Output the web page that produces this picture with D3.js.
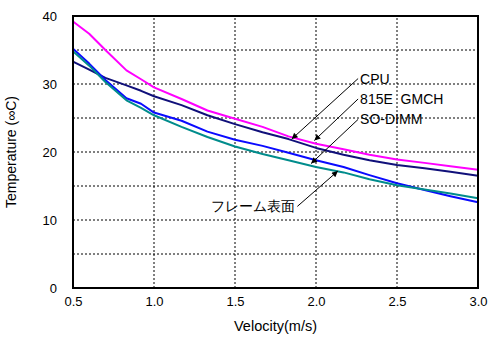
<!DOCTYPE html>
<html>
<head>
<meta charset="utf-8">
<script src="https://cdn.jsdelivr.net/npm/d3@7"></script>
<style>
  body { margin: 0; background: #fff; }
  svg { display: block; font-family: Arial, "Liberation Sans", sans-serif; }
  .grid line { stroke: #000; stroke-width: 1; stroke-dasharray: 2,2; }
  .series { fill: none; stroke-width: 2; stroke-linejoin: round; }
  .ann line { stroke: #000; stroke-width: 1; }
</style>
</head>
<body>
<svg id="chart" width="496" height="338"></svg>
<script>
(function() {

// velocity (m/s)
const velocity = [0.5, 0.6, 0.7, 0.83, 0.92, 1.0, 1.17, 1.33, 1.5, 1.67, 1.83, 2.0, 2.17, 2.33, 2.5, 2.67, 2.83, 3.0];

// temperatures (deg C) per series
const cpuTemp    = [39.2, 37.4, 35.0, 32.0, 30.7, 29.5, 27.8, 26.1, 24.9, 23.7, 22.3, 21.2, 20.4, 19.6, 18.9, 18.4, 17.9, 17.4];
const gmchTemp   = [33.3, 32.1, 30.9, 29.8, 29.0, 28.2, 26.9, 25.4, 24.1, 22.9, 21.9, 20.6, 19.6, 18.8, 18.1, 17.6, 17.1, 16.5];
const dimmTemp   = [35.2, 33.0, 30.6, 27.9, 27.1, 25.8, 24.6, 23.0, 21.8, 20.9, 19.9, 18.8, 17.8, 16.6, 15.4, 14.4, 13.5, 12.6];
const frameTemp  = [34.8, 32.7, 30.3, 27.6, 26.5, 25.4, 23.7, 22.2, 20.8, 19.7, 18.8, 17.8, 17.0, 16.0, 15.1, 14.5, 13.9, 13.2];

const seriesValues = [cpuTemp, gmchTemp, dimmTemp, frameTemp];
const seriesColors = ["#ff00ff", "#10107a", "#0a0aff", "#008c8c"];

const xTicks = [0.5, 1.0, 1.5, 2.0, 2.5, 3.0];
const yTicks = [0, 10, 20, 30, 40];
const yGrid  = [5, 10, 15, 20, 25, 30, 35];

// callouts: label, arrow start (velocity, temp), arrow tip (velocity, temp)
const calloutLabels = ["CPU", "815E  GMCH", "SO-DIMM", "フレーム表面"];
const calloutFrom   = [[2.26, 30.8], [2.26, 27.8], [2.26, 24.8], [1.885, 12.0]];
const calloutTo     = [[1.85, 21.9], [1.99, 21.7], [1.97, 18.3], [2.135, 17.2]];

const svg = d3.select("#chart");
const margin = { left: 73, right: 18, top: 16, bottom: 50 };
const width = 496, height = 338;

const x = d3.scaleLinear().domain([0.5, 3.0]).range([margin.left, width - margin.right]);
const y = d3.scaleLinear().domain([0, 40]).range([height - margin.bottom, margin.top]);

svg.append("defs").append("marker")
    .attr("id", "arrow")
    .attr("viewBox", "0 0 10 10")
    .attr("refX", 10).attr("refY", 5)
    .attr("markerWidth", 8).attr("markerHeight", 6)
    .attr("markerUnits", "userSpaceOnUse")
    .attr("orient", "auto")
    .append("path")
    .attr("d", "M0,0 L10,5 L0,10 z")
    .attr("fill", "#000");

// dashed grid
const grid = svg.append("g").attr("class", "grid");
grid.selectAll("line.v")
    .data(xTicks.slice(1, -1))
    .enter().append("line")
    .attr("class", "v")
    .attr("x1", (d) => x(d)).attr("x2", (d) => x(d))
    .attr("y1", y(0)).attr("y2", y(40));
grid.selectAll("line.h")
    .data(yGrid)
    .enter().append("line")
    .attr("class", "h")
    .attr("x1", x(0.5)).attr("x2", x(3.0))
    .attr("y1", (d) => y(d)).attr("y2", (d) => y(d));

// series lines
const line = d3.line()
    .x((d, i) => x(velocity[i]))
    .y((d) => y(d));

svg.append("g")
    .selectAll("path")
    .data(seriesValues)
    .enter().append("path")
    .attr("class", "series")
    .attr("stroke", (d, i) => seriesColors[i])
    .attr("d", line);

// frame
svg.append("rect")
    .attr("x", x(0.5)).attr("y", y(40))
    .attr("width", x(3.0) - x(0.5))
    .attr("height", y(0) - y(40))
    .attr("fill", "none")
    .attr("stroke", "#000")
    .attr("stroke-width", 2);

// axes
const xAxis = svg.append("g")
    .attr("transform", "translate(0," + (y(0) + 4) + ")")
    .call(d3.axisBottom(x).tickValues(xTicks).tickFormat(d3.format(".1f")).tickSize(0).tickPadding(5));
const yAxis = svg.append("g")
    .attr("transform", "translate(" + (x(0.5) - 4) + ",0)")
    .call(d3.axisLeft(y).tickValues(yTicks).tickSize(0).tickPadding(12));
[xAxis, yAxis].forEach(function(ax) {
    ax.select(".domain").remove();
    ax.selectAll("text")
        .attr("font-family", "Arial, 'Liberation Sans', sans-serif")
        .attr("font-size", 13)
        .attr("fill", "#000");
});

svg.append("text")
    .attr("x", (x(0.5) + x(3.0)) / 2)
    .attr("y", 331)
    .attr("text-anchor", "middle")
    .attr("font-size", 14.5)
    .text("Velocity(m/s)");

svg.append("text")
    .attr("transform", "translate(16," + ((y(0) + y(40)) / 2) + ") rotate(-90)")
    .attr("text-anchor", "middle")
    .attr("font-size", 14)
    .text("Temperature (∞C)");

// callouts
const ann = svg.append("g").attr("class", "ann")
    .selectAll("g")
    .data(calloutLabels)
    .enter().append("g");

ann.append("line")
    .attr("x1", (d, i) => x(calloutFrom[i][0]))
    .attr("y1", (d, i) => y(calloutFrom[i][1]))
    .attr("x2", (d, i) => x(calloutTo[i][0]))
    .attr("y2", (d, i) => y(calloutTo[i][1]))
    .attr("marker-end", "url(#arrow)");

ann.append("text")
    .attr("x", function(d, i) {
        const left = calloutFrom[i][0] > calloutTo[i][0];
        return x(calloutFrom[i][0]) + (left ? 2 : -2);
    })
    .attr("y", (d, i) => y(calloutFrom[i][1]) + 5)
    .attr("text-anchor", (d, i) => calloutFrom[i][0] > calloutTo[i][0] ? "start" : "end")
    .attr("font-size", 14)
    .style("white-space", "pre")
    .text((d) => d);

})();
</script>
</body>
</html>
